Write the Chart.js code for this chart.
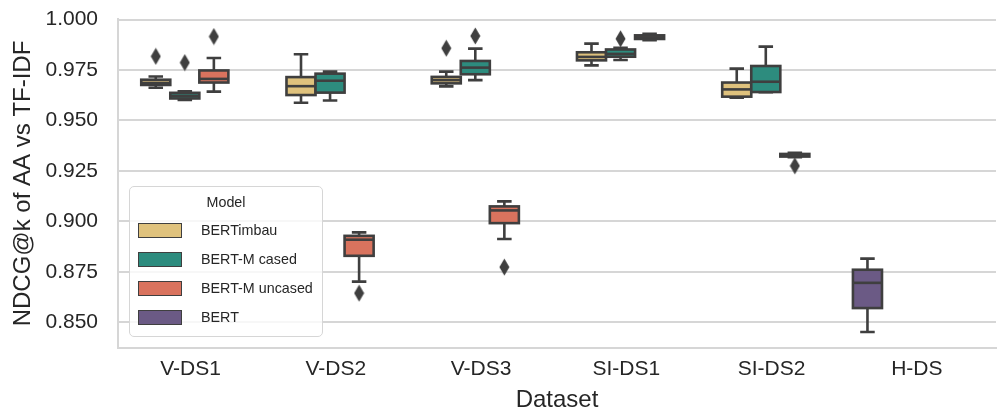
<!DOCTYPE html>
<html>
<head>
<meta charset="utf-8">
<script src="https://cdn.jsdelivr.net/npm/chart.js@4.4.0/dist/chart.umd.min.js"></script>
<style>
    html, body { margin: 0; padding: 0; background: #fff; }
    #wrap { position: relative; width: 1003px; height: 415px; }
    #legend {
        position: absolute; left: 129px; top: 186px; width: 194px; height: 151px;
        border: 1.5px solid #d6d6d6; border-radius: 5px; background: rgba(255,255,255,0.8);
        font-family: 'Liberation Sans', Arial, sans-serif; font-size: 14.3px; color: #262626;
        box-sizing: border-box;
    }
    #legend .title { position: absolute; left: 0; width: 100%; top: 7px; text-align: center; }
    #legend .row { position: absolute; left: 8px; height: 18px; display: flex; align-items: center; }
    #legend .patch { width: 44px; height: 15px; border: 1.5px solid #3f3f3f; box-sizing: border-box; margin-right: 19px; }
</style>
</head>
<body>
<div id="wrap">
    <canvas id="boxChart" width="1003" height="415"></canvas>
    <div id="legend"></div>
</div>
<script>
const categories = ['V-DS1', 'V-DS2', 'V-DS3', 'SI-DS1', 'SI-DS2', 'H-DS'];
const models = ['BERTimbau', 'BERT-M cased', 'BERT-M uncased', 'BERT'];
const yTicks = [0.850, 0.875, 0.900, 0.925, 0.950, 0.975, 1.000];

// [lower whisker, q1, median, q3, upper whisker] per dataset
const bertimbauStats = [
    [0.9662, 0.9676, 0.9686, 0.9702, 0.9718],
    [0.9588, 0.9626, 0.9670, 0.9715, 0.9828],
    [0.9669, 0.9684, 0.9700, 0.9716, 0.9742],
    [0.9773, 0.9798, 0.9815, 0.9838, 0.9881],
    [0.9613, 0.9618, 0.9654, 0.9688, 0.9757],
    null
];
const casedStats = [
    [0.9602, 0.9609, 0.9622, 0.9637, 0.9644],
    [0.9599, 0.9638, 0.9697, 0.9732, 0.9742],
    [0.9700, 0.9729, 0.9762, 0.9795, 0.9856],
    [0.9800, 0.9816, 0.9830, 0.9852, 0.9860],
    [0.9640, 0.9641, 0.9692, 0.9770, 0.9866],
    null
];
const uncasedStats = [
    [0.9643, 0.9688, 0.9706, 0.9748, 0.9810],
    [0.8701, 0.8829, 0.8909, 0.8928, 0.8945],
    [0.8912, 0.8991, 0.9054, 0.9074, 0.9099],
    [0.9898, 0.9904, 0.9912, 0.9922, 0.9930],
    [0.9318, 0.9321, 0.9328, 0.9334, 0.9340],
    null
];
const bertStats = [null, null, null, null, null,
    [0.8451, 0.8570, 0.8695, 0.8760, 0.8815]];

// outliers per dataset
const bertimbauOutliers = [[0.9818], [], [0.9858], [], [], []];
const casedOutliers = [[0.9787], [], [0.9919], [0.9905], [], []];
const uncasedOutliers = [[0.9916], [0.8644], [0.8773], [], [0.9275], []];
const bertOutliers = [[], [], [], [], [], []];

const allStats = [bertimbauStats, casedStats, uncasedStats, bertStats];
const allOutliers = [bertimbauOutliers, casedOutliers, uncasedOutliers, bertOutliers];
const colors = ['#dfc27d', '#2d8c7e', '#d9735e', '#6b5a85'];
const lineColor = '#3f3f3f';
const hueOffset = [-0.24, -0.04, 0.16, -0.34];
const boxWidth = 0.2;

function xPos(cat, m) {
    return cat + hueOffset[m];
}

// thin diamond marker for fliers
const diamond = document.createElement('canvas');
diamond.width = 11; diamond.height = 18;
(function () {
    const c = diamond.getContext('2d');
    c.fillStyle = lineColor;
    c.beginPath();
    c.moveTo(5.5, 0.5); c.lineTo(10.5, 9); c.lineTo(5.5, 17.5); c.lineTo(0.5, 9);
    c.closePath(); c.fill();
})();

const flierSets = allOutliers.map((outs, m) => ({
    label: models[m],
    data: outs.flatMap((vals, c) => vals.map(v => ({ x: xPos(c, m), y: v }))),
    pointStyle: diamond,
    pointRadius: 6
}));

const boxPlugin = {
    id: 'boxes',
    beforeDatasetsDraw(chart) {
        const ctx = chart.ctx;
        const xs = chart.scales.x, ys = chart.scales.y;
        const half = (xs.getPixelForValue(boxWidth) - xs.getPixelForValue(0)) / 2;
        ctx.save();
        ctx.lineWidth = 2.6;
        ctx.strokeStyle = lineColor;
        allStats.forEach((stats, m) => {
            stats.forEach((s, c) => {
                if (!s) return;
                const x = xs.getPixelForValue(xPos(c, m));
                const [lo, q1, med, q3, hi] = s.map(v => ys.getPixelForValue(v));
                ctx.beginPath();
                ctx.moveTo(x, hi); ctx.lineTo(x, q3);
                ctx.moveTo(x, q1); ctx.lineTo(x, lo);
                ctx.moveTo(x - half / 2, hi); ctx.lineTo(x + half / 2, hi);
                ctx.moveTo(x - half / 2, lo); ctx.lineTo(x + half / 2, lo);
                ctx.stroke();
                ctx.fillStyle = colors[m];
                ctx.fillRect(x - half, q3, half * 2, q1 - q3);
                ctx.strokeRect(x - half, q3, half * 2, q1 - q3);
                ctx.beginPath();
                ctx.moveTo(x - half, med); ctx.lineTo(x + half, med);
                ctx.stroke();
            });
        });
        ctx.restore();
    }
};

Chart.defaults.font.family = "'Liberation Sans', Arial, sans-serif";
Chart.defaults.color = '#262626';

new Chart(document.getElementById('boxChart'), {
    type: 'scatter',
    data: { datasets: flierSets },
    plugins: [boxPlugin],
    options: {
        responsive: false,
        animation: false,
        devicePixelRatio: 1,
        layout: { padding: { top: 19, right: 0, left: 0, bottom: 0 } },
        plugins: { legend: { display: false }, tooltip: { enabled: false } },
        scales: {
            x: {
                type: 'linear',
                min: -0.5,
                max: 5.545,
                afterBuildTicks: s => { s.ticks = categories.map((_, i) => ({ value: i })); },
                afterFit: s => { s.height = 67; },
                grid: { display: false },
                border: { display: true, color: '#d6d6d6', width: 2 },
                ticks: { font: { size: 21 }, padding: 1, callback: v => categories[v] },
                title: { display: true, text: 'Dataset', font: { size: 24 }, padding: 0 }
            },
            y: {
                min: 0.8372,
                max: 1.0003,
                afterBuildTicks: s => { s.ticks = yTicks.map(v => ({ value: v })); },
                afterFit: s => { s.width = 118; s.paddingTop = 0; s.paddingBottom = 0; },
                grid: { color: '#d6d6d6', lineWidth: 2, drawTicks: false },
                border: { display: true, color: '#d6d6d6', width: 2 },
                ticks: { font: { size: 21 }, padding: 20, callback: v => v.toFixed(3) },
                title: { display: true, text: 'NDCG@k of AA vs TF-IDF', font: { size: 24 }, padding: { top: 9, bottom: 0 } }
            }
        }
    }
});

// legend inside the plot, like seaborn's
const legend = document.getElementById('legend');
legend.innerHTML = '<div class="title">Model</div>' + models.map((name, i) =>
    `<div class="row" style="top:${34 + i * 29}px"><div class="patch" style="background:${colors[i]}"></div><span>${name}</span></div>`
).join('');
</script>
</body>
</html>
